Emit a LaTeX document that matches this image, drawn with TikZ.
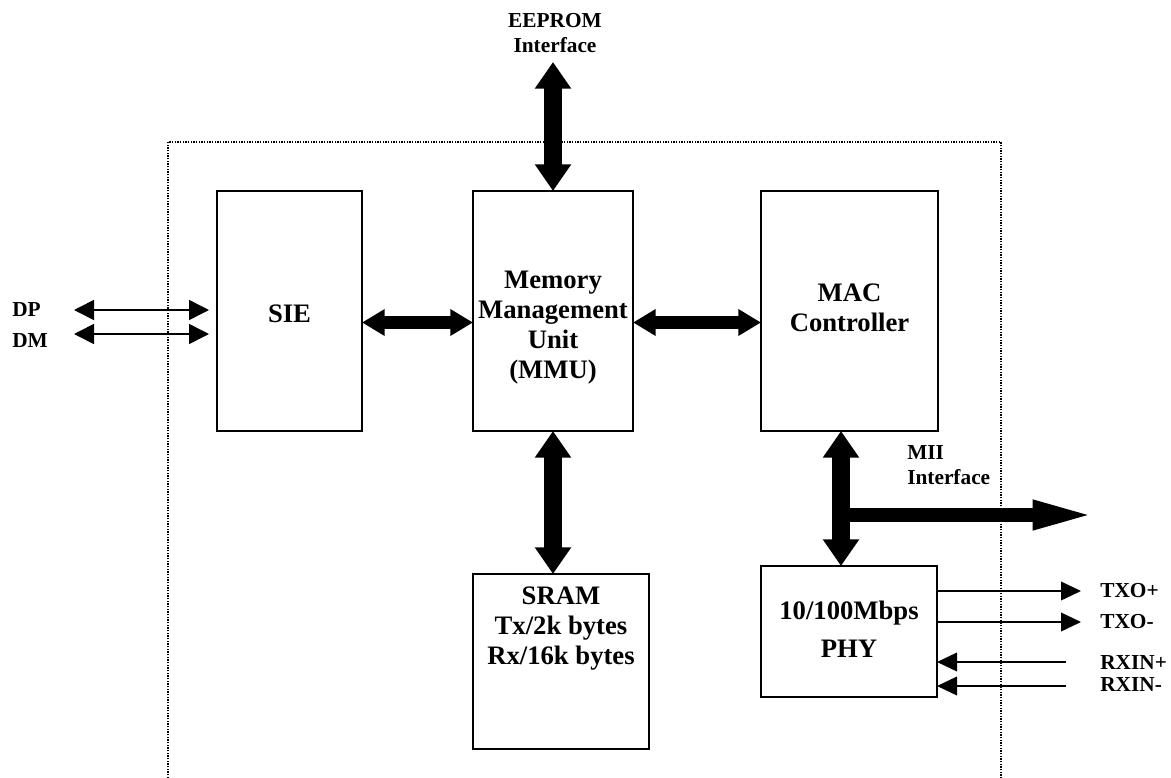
\documentclass[tikz,border=0pt]{standalone}
\usepackage{fontspec}
\setmainfont{Liberation Serif}
\usetikzlibrary{arrows.meta}

\begin{document}
\begin{tikzpicture}[x=0.75pt, y=-0.75pt,
    blockbox/.style = {draw, line width=1.2pt, inner sep=0pt, outer sep=0pt},
    boxtext/.style = {font=\fontsize{20}{22.5}\selectfont\bfseries, align=center, inner sep=0pt},
    pintext/.style = {font=\fontsize{16}{18.75}\selectfont\bfseries, inner sep=0pt},
    hbus/.style = {line width=9.5pt, {Triangle[length=17pt,width=19pt]}-{Triangle[length=17pt,width=19pt]}},
    vbus/.style = {line width=13pt, {Triangle[length=20pt,width=26pt]}-{Triangle[length=20pt,width=26pt]}},
    miibus/.style = {line width=10.5pt, -{Triangle[length=49pt,width=19.5pt]}},
    sigboth/.style = {line width=1.2pt, {Triangle[length=15pt,width=15pt]}-{Triangle[length=15pt,width=15pt]}},
    sigone/.style = {line width=1.2pt, -{Triangle[length=15pt,width=14pt]}},
    frame/.style = {line width=0.8pt, dash pattern=on 0.9pt off 1.1pt}]
			\useasboundingbox (0,0) rectangle (1171,778);
			\draw[frame] (168,778) -- (168,142) -- (1001,142) -- (1001,778);
			\node[blockbox, minimum width=108.75pt, minimum height=180pt] (sie) at (289.5,311) {};
			\node[blockbox, minimum width=120pt, minimum height=180pt] (mmu) at (553,311) {};
			\node[blockbox, minimum width=132.75pt, minimum height=180pt] (mac) at (849.5,311) {};
			\node[blockbox, minimum width=132pt, minimum height=131.25pt] (sram) at (561,661.5) {};
			\node[blockbox, minimum width=132pt, minimum height=98.25pt] (phy) at (849,631.5) {};
			\node[boxtext] (sietext) at (289.5,313.5) {SIE};
			\node[boxtext] (mmutext) at (553,328) {Memory\\Management\\Unit\\(MMU)};
			\node[boxtext] (mactext) at (849.5,308) {MAC\\Controller};
			\node[boxtext] (sramtext) at (561,629) {SRAM\\Tx/2k bytes\\Rx/16k bytes};
			\node[boxtext] (phytext) at (849,629) {10/100Mbps\\[6pt]PHY};
			\draw[hbus] (sie.east |- 0,322.5) -- (mmu.west |- 0,322.5);
			\draw[hbus] (mmu.east |- 0,322.5) -- (mac.west |- 0,322.5);
			\draw[vbus] (mmu.south) -- (mmu.south |- sram.north);
			\coordinate (eeprom) at (553,62);
			\draw[vbus] (eeprom) -- (mmu.north);
			\node[pintext, align=center] (eepromtext) at (555,33) {EEPROM\\Interface};
			\coordinate (miitap) at (841,431);
			\coordinate (miiend) at (1098,515);
			\draw[vbus] (miitap) -- (miitap |- phy.north);
			\draw[miibus] (miitap |- miiend) -- (miiend);
			\node[pintext, align=left, anchor=west] (miitext) at (907,465) {MII\\Interface};
			\coordinate (dpend) at (74,310);
			\coordinate (dmend) at (74,334);
			\draw[sigboth] (dpend) -- ([xshift=-6pt]sie.west |- dpend);
			\draw[sigboth] (dmend) -- ([xshift=-6pt]sie.west |- dmend);
			\node[pintext, anchor=west] (dptext) at (12,310) {DP};
			\node[pintext, anchor=west] (dmtext) at (12,341) {DM};
			\coordinate (txpend) at (1081,591);
			\coordinate (txnend) at (1081,622);
			\coordinate (rxpend) at (1066,662);
			\coordinate (rxnend) at (1066,686);
			\draw[sigone] (phy.east |- txpend) -- (txpend);
			\draw[sigone] (phy.east |- txnend) -- (txnend);
			\draw[sigone] (rxpend) -- (phy.east |- rxpend);
			\draw[sigone] (rxnend) -- (phy.east |- rxnend);
			\node[pintext, anchor=west] (txptext) at (1100,591) {TXO+};
			\node[pintext, anchor=west] (txntext) at (1100,622) {TXO-};
			\node[pintext, anchor=west] (rxptext) at (1100,663) {RXIN+};
			\node[pintext, anchor=west] (rxntext) at (1100,685) {RXIN-};
\end{tikzpicture}
\end{document}
